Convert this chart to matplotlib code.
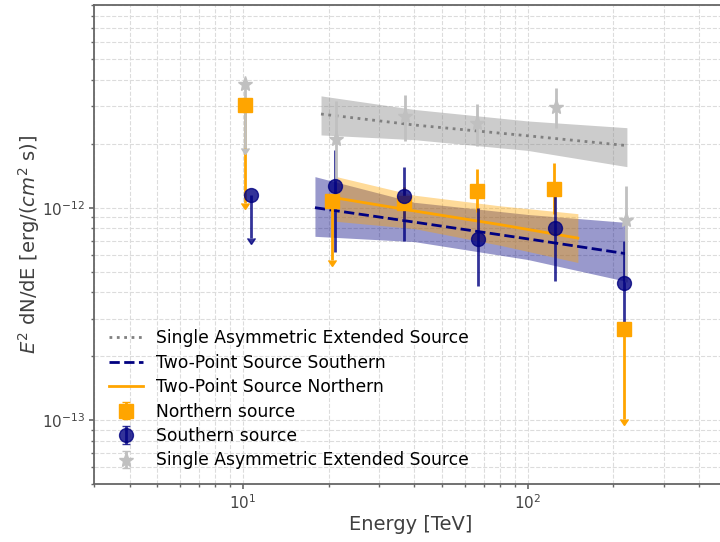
#!/usr/bin/env python3
"""SED of the northern and southern components against the single extended source."""

import matplotlib as mpl

mpl.use("Agg")

import matplotlib.pyplot as plt
import numpy as np

# Flux points: E^2 dN/dE in erg cm^-2 s^-1, energies in TeV.
# For upper limits the "low" value is where the arrow ends.
NORTH_E = [10.2, 20.6, 36.9, 66.4, 123.9, 217.8]
NORTH_FLUX = [3.05e-12, 1.08e-12, 1.05e-12, 1.20e-12, 1.23e-12, 2.68e-13]
NORTH_LOW = [1.05e-12, 5.70e-13, 0.88e-12, 0.95e-12, 0.93e-12, 1.01e-13]
NORTH_HIGH = [3.05e-12, 1.08e-12, 1.25e-12, 1.52e-12, 1.63e-12, 2.68e-13]
NORTH_UL = [True, True, False, False, False, True]

SOUTH_E = [10.7, 21.0, 36.9, 67.0, 125.1, 217.8]
SOUTH_FLUX = [1.15e-12, 1.26e-12, 1.14e-12, 7.15e-13, 8.06e-13, 4.40e-13]
SOUTH_LOW = [7.23e-13, 6.21e-13, 6.95e-13, 4.26e-13, 4.54e-13, 2.68e-13]
SOUTH_HIGH = [1.15e-12, 1.87e-12, 1.56e-12, 1.00e-12, 1.13e-12, 6.95e-13]
SOUTH_UL = [True, False, False, False, False, False]

SINGLE_E = [10.2, 21.3, 37.1, 66.6, 125.9, 220.5]
SINGLE_FLUX = [3.82e-12, 2.11e-12, 2.71e-12, 2.51e-12, 2.99e-12, 8.78e-13]
SINGLE_LOW = [1.91e-12, 1.35e-12, 2.05e-12, 1.95e-12, 2.38e-12, 4.45e-13]
SINGLE_HIGH = [3.82e-12, 3.18e-12, 3.39e-12, 3.08e-12, 3.66e-12, 1.27e-12]
SINGLE_UL = [True, False, False, False, False, False]

# Best-fit spectra with their 1 sigma bands
SINGLE_FIT_E = [18.8, 40.0, 100.0, 223.0]
SINGLE_FIT = [2.76e-12, 2.45e-12, 2.18e-12, 1.96e-12]
SINGLE_FIT_UP = [3.36e-12, 2.90e-12, 2.56e-12, 2.38e-12]
SINGLE_FIT_DN = [2.20e-12, 2.09e-12, 1.86e-12, 1.56e-12]

SOUTH_FIT_E = [17.9, 40.0, 100.0, 220.0]
SOUTH_FIT = [1.00e-12, 8.55e-13, 7.13e-13, 6.08e-13]
SOUTH_FIT_UP = [1.40e-12, 1.06e-12, 9.29e-13, 8.53e-13]
SOUTH_FIT_DN = [7.33e-13, 6.92e-13, 5.70e-13, 4.51e-13]

NORTH_FIT_E = [21.3, 40.0, 80.0, 150.0]
NORTH_FIT = [1.11e-12, 9.65e-13, 8.32e-13, 7.19e-13]
NORTH_FIT_UP = [1.40e-12, 1.145e-12, 1.02e-12, 9.37e-13]
NORTH_FIT_DN = [8.62e-13, 7.97e-13, 6.65e-13, 5.52e-13]


def draw_points(ax, e, flux, low, high, ul, **style):
    flux = np.asarray(flux)
    yerr = np.vstack([flux - np.asarray(low), np.asarray(high) - flux])
    return ax.errorbar(e, flux, yerr=yerr, uplims=ul, elinewidth=2, capsize=0, **style)


def main() -> None:
    fig = plt.figure(figsize=(7.2, 5.42), dpi=100)
    ax = fig.add_axes([0.1306, 0.107, 0.8788, 0.8838])

    ax.fill_between(SINGLE_FIT_E, SINGLE_FIT_DN, SINGLE_FIT_UP, color="gray", alpha=0.4, lw=0)
    ax.plot(SINGLE_FIT_E, SINGLE_FIT, ls=":", color="gray", lw=2,
            label="Single Asymmetric Extended Source")
    ax.fill_between(SOUTH_FIT_E, SOUTH_FIT_DN, SOUTH_FIT_UP, color="navy", alpha=0.4, lw=0)
    ax.plot(SOUTH_FIT_E, SOUTH_FIT, ls="--", color="navy", lw=2,
            label="Two-Point Source Southern")
    ax.fill_between(NORTH_FIT_E, NORTH_FIT_DN, NORTH_FIT_UP, color="orange", alpha=0.4, lw=0)
    ax.plot(NORTH_FIT_E, NORTH_FIT, ls="-", color="orange", lw=2,
            label="Two-Point Source Northern")

    draw_points(ax, NORTH_E, NORTH_FLUX, NORTH_LOW, NORTH_HIGH, NORTH_UL,
                fmt="s", color="orange", ms=10, label="Northern source")
    draw_points(ax, SOUTH_E, SOUTH_FLUX, SOUTH_LOW, SOUTH_HIGH, SOUTH_UL,
                fmt="o", color="navy", alpha=0.8, ms=10, label="Southern source")
    draw_points(ax, SINGLE_E, SINGLE_FLUX, SINGLE_LOW, SINGLE_HIGH, SINGLE_UL,
                fmt="*", color="silver", ms=11, label="Single Asymmetric Extended Source")

    ax.set_xscale("log")
    ax.set_yscale("log")
    ax.set_xlim(3, 500)
    ax.set_ylim(5e-14, 9e-12)
    ax.grid(True, which="both", ls="--", color="#dcdcdc", lw=0.8)
    ax.set_axisbelow(True)

    for side in ("left", "bottom", "top", "right"):
        ax.spines[side].set_color("#666666")
        ax.spines[side].set_linewidth(1.3)
    ax.tick_params(which="both", colors="#666666", labelcolor="#444444", labelsize=11, pad=3)
    ax.tick_params(which="major", length=3.5, width=1.2)
    ax.tick_params(which="minor", length=2.2, width=1.0)

    ax.set_xlabel("Energy [TeV]", fontsize=14, color="#404040", labelpad=2)
    ax.set_ylabel(r"$E^2$ dN/dE [erg/($cm^2$ s)]", fontsize=14, color="#404040", labelpad=0)

    ax.legend(loc="lower left", frameon=False, fontsize=12.3, labelspacing=0.38,
              borderaxespad=0.45)

    fig.savefig("out.png", dpi=100)
    plt.close(fig)


if __name__ == "__main__":
    main()
